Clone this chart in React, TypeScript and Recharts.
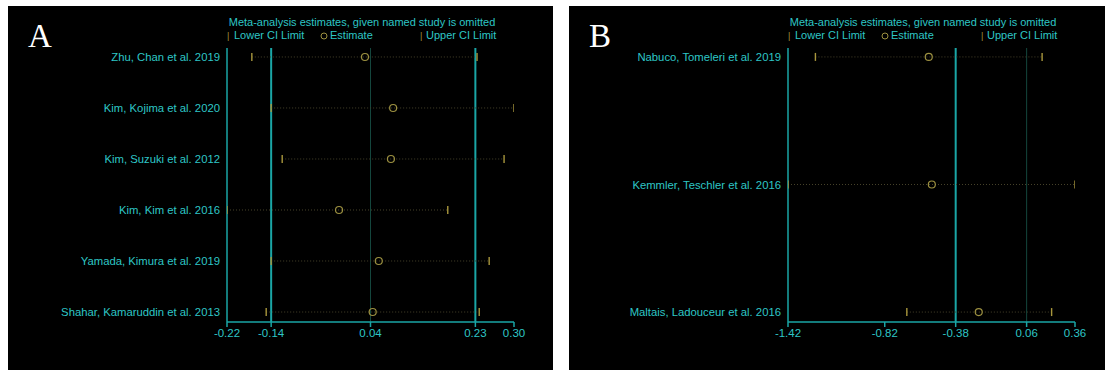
import React from "react";
import { ComposedChart, Scatter, XAxis, YAxis, ReferenceLine } from "recharts";

// Panel A: leave-one-out estimates
const studiesA = [
  "Zhu, Chan et al. 2019",
  "Kim, Kojima et al. 2020",
  "Kim, Suzuki et al. 2012",
  "Kim, Kim et al. 2016",
  "Yamada, Kimura et al. 2019",
  "Shahar, Kamaruddin et al. 2013",
];
const estimateA = [0.03, 0.081, 0.077, -0.017, 0.055, 0.044];
const lowerA = [-0.175, -0.14, -0.12, -0.22, -0.14, -0.149];
const upperA = [0.233, 0.3, 0.282, 0.18, 0.255, 0.237];
const ticksA = [-0.22, -0.14, 0.04, 0.23, 0.3];
const ciLinesA = [-0.14, 0.23];
const estLinesA = [0.04];

// Panel B
const studiesB = [
  "Nabuco, Tomeleri et al. 2019",
  "Kemmler, Teschler et al. 2016",
  "Maltais, Ladouceur et al. 2016",
];
const estimateB = [-0.547, -0.528, -0.237];
const lowerB = [-1.25, -1.42, -0.683];
const upperB = [0.156, 0.36, 0.215];
const ticksB = [-1.42, -0.82, -0.38, 0.06, 0.36];
const ciLinesB = [-0.38];
const estLinesB = [0.06];

const TEAL_TEXT = "#2ec6c6";
const TEAL_LINE = "#1aa6a6";
const TEAL_DIM = "#14463d";
const OLIVE = "#a8963c";
const OLIVE_DIM = "#46422a";
const FONT = '"Liberation Sans", Arial, sans-serif';

const PANEL_H = 364;

function CiTick(props: any) {
  const { cx, cy } = props;
  if (cx == null || cy == null) return null;
  return <line x1={cx} x2={cx} y1={cy - 4} y2={cy + 4} stroke={OLIVE} strokeWidth={1.4} />;
}

function EstimateDot(props: any) {
  const { cx, cy } = props;
  if (cx == null || cy == null) return null;
  return <circle cx={cx} cy={cy} r={3.5} fill="none" stroke="#9c9040" strokeWidth={1.2} />;
}

interface PanelProps {
  letter: string;
  left: number;
  width: number;
  studies: string[];
  estimate: number[];
  lower: number[];
  upper: number[];
  ticks: number[];
  ciLines: number[];
  estLines: number[];
  yDomain: [number, number];
}

function Panel({
  letter,
  left,
  width,
  studies,
  estimate,
  lower,
  upper,
  ticks,
  ciLines,
  estLines,
  yDomain,
}: PanelProps) {
  const estData = studies.map((_, i) => ({ x: estimate[i], y: i }));
  const lowData = studies.map((_, i) => ({ x: lower[i], y: i }));
  const upData = studies.map((_, i) => ({ x: upper[i], y: i }));
  const text = { position: "absolute" as const, fontFamily: FONT, fontSize: 11, color: TEAL_TEXT, lineHeight: "13px", whiteSpace: "nowrap" as const };

  return (
    <div style={{ position: "absolute", left, top: 6, width, height: PANEL_H, background: "#000", overflow: "hidden" }}>
      <div style={{ position: "absolute", left: 20, top: 12, fontFamily: '"Liberation Serif", "Times New Roman", serif', fontSize: 33, color: "#fff", lineHeight: "36px" }}>
        {letter}
      </div>
      <div style={{ ...text, left: 154, width: 400, textAlign: "center", top: 10 }}>
        Meta-analysis estimates, given named study is omitted
      </div>
      <span style={{ ...text, left: 219, top: 24, color: OLIVE, fontSize: 9 }}>|</span>
      <span style={{ ...text, left: 226, top: 23 }}>Lower CI Limit</span>
      <svg style={{ position: "absolute", left: 312, top: 26 }} width={8} height={8}>
        <circle cx={4} cy={4} r={3} fill="none" stroke="#9c9040" strokeWidth={1} />
      </svg>
      <span style={{ ...text, left: 322, top: 23 }}>Estimate</span>
      <span style={{ ...text, left: 412, top: 24, color: OLIVE, fontSize: 9 }}>|</span>
      <span style={{ ...text, left: 418, top: 23 }}>Upper CI Limit</span>

      <ComposedChart
        width={width}
        height={PANEL_H}
        margin={{ top: 42, right: width - 506, bottom: 18, left: 7 }}
      >
        <XAxis
          type="number"
          dataKey="x"
          domain={[ticks[0], ticks[ticks.length - 1]]}
          ticks={ticks}
          interval={0}
          allowDataOverflow
          tickFormatter={(v: number) => v.toFixed(2)}
          tick={{ fill: TEAL_TEXT, fontSize: 11.5, fontFamily: FONT }}
          axisLine={{ stroke: TEAL_LINE, strokeWidth: 1.5 }}
          tickLine={{ stroke: TEAL_LINE, strokeWidth: 1.5 }}
          tickSize={5}
          tickMargin={2}
          height={30}
        />
        <YAxis
          type="number"
          dataKey="y"
          reversed
          domain={yDomain}
          ticks={studies.map((_, i) => i)}
          interval={0}
          allowDataOverflow
          tickFormatter={(i: number) => studies[i] ?? ""}
          tick={{ fill: TEAL_TEXT, fontSize: 11.3, fontFamily: FONT }}
          axisLine={{ stroke: TEAL_LINE, strokeWidth: 1.5 }}
          tickLine={false}
          tickSize={0}
          tickMargin={7}
          width={212}
        />
        {estLines.map((v) => (
          <ReferenceLine key={`e${v}`} x={v} stroke={TEAL_DIM} strokeWidth={1} />
        ))}
        {ciLines.map((v) => (
          <ReferenceLine key={`c${v}`} x={v} stroke={TEAL_LINE} strokeWidth={2} />
        ))}
        {studies.map((s, i) => (
          <ReferenceLine
            key={s}
            segment={[
              { x: lower[i], y: i },
              { x: upper[i], y: i },
            ]}
            stroke={OLIVE_DIM}
            strokeWidth={1}
            strokeDasharray="1 2"
          />
        ))}
        <Scatter data={lowData} shape={CiTick} isAnimationActive={false} />
        <Scatter data={upData} shape={CiTick} isAnimationActive={false} />
        <Scatter data={estData} shape={EstimateDot} isAnimationActive={false} />
      </ComposedChart>
    </div>
  );
}

export default function App() {
  return (
    <div style={{ position: "absolute", left: 0, top: 0, width: 1105, height: 370, background: "#fff", overflow: "hidden" }}>
      <Panel
        letter="A"
        left={8}
        width={545}
        studies={studiesA}
        estimate={estimateA}
        lower={lowerA}
        upper={upperA}
        ticks={ticksA}
        ciLines={ciLinesA}
        estLines={estLinesA}
        yDomain={[-0.176, 5.196]}
      />
      <Panel
        letter="B"
        left={569}
        width={536}
        studies={studiesB}
        estimate={estimateB}
        lower={lowerB}
        upper={upperB}
        ticks={ticksB}
        ciLines={ciLinesB}
        estLines={estLinesB}
        yDomain={[-0.07, 2.078]}
      />
    </div>
  );
}
